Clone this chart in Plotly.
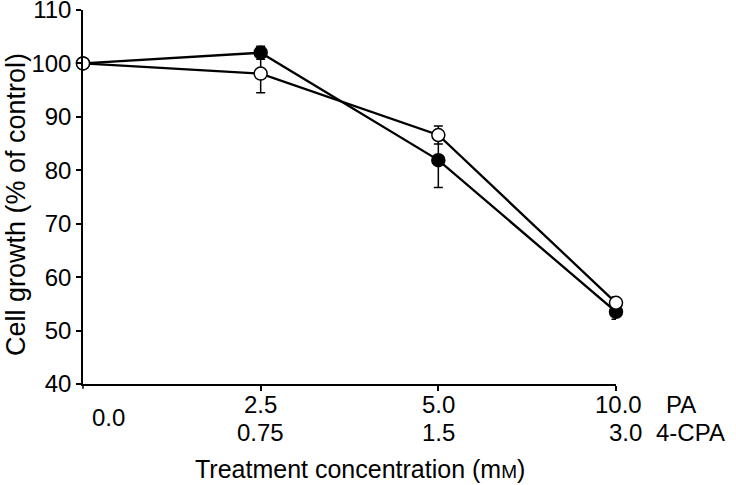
import plotly.graph_objects as go

# ---- data ----
pa_conc = ["0.0", "2.5", "5.0", "10.0"]      # PA (mM)
cpa_conc = ["", "0.75", "1.5", "3.0"]        # 4-CPA (mM)
x_index = [0, 1, 2, 3]

filled_growth = [100, 102.0, 81.9, 53.5]
filled_err = [0, 1.2, 5.1, 1.4]
open_growth = [100, 98.1, 86.6, 55.2]
open_err = [0, 3.6, 1.7, 1.1]

y_ticks = [40, 50, 60, 70, 80, 90, 100, 110]

FONT = "Liberation Sans, Arial, Helvetica, sans-serif"
TICK_SIZE = 24

fig = go.Figure()

fig.add_trace(go.Scatter(
    x=x_index, y=filled_growth, mode="lines+markers", name="filled",
    line=dict(color="black", width=2.3),
    marker=dict(symbol="circle", size=13, color="black",
                line=dict(color="black", width=1.5)),
    error_y=dict(type="data", array=filled_err, visible=True,
                 color="black", thickness=1.5, width=4.5),
    cliponaxis=False, showlegend=False,
))
fig.add_trace(go.Scatter(
    x=x_index, y=open_growth, mode="lines+markers", name="open",
    line=dict(color="black", width=2.3),
    marker=dict(symbol="circle", size=13, color="white",
                line=dict(color="black", width=1.5)),
    error_y=dict(type="data", array=open_err, visible=True,
                 color="black", thickness=1.5, width=4.5),
    cliponaxis=False, showlegend=False,
))

fig.update_layout(
    width=736, height=485,
    margin=dict(l=83, r=120, t=10, b=101, autoexpand=False),
    paper_bgcolor="white", plot_bgcolor="white",
    font=dict(family=FONT, color="black", size=TICK_SIZE),
)

fig.update_xaxes(
    range=[0, 3], showgrid=False, zeroline=False, automargin=False,
    showline=True, linecolor="black", linewidth=1.5,
    ticks="outside", ticklen=5, tickwidth=1.5, tickcolor="black",
    tickvals=x_index[1:], showticklabels=False,
)
fig.update_yaxes(
    range=[40, 110], showgrid=False, zeroline=False, automargin=False,
    showline=True, linecolor="black", linewidth=1.5,
    ticks="outside", ticklen=5, tickwidth=1.5, tickcolor="black",
    tickvals=y_ticks, ticktext=[str(v) for v in y_ticks],
    tickfont=dict(size=TICK_SIZE, family=FONT, color="black"),
    ticklabeloverflow="allow",
)

# small extension of y-axis below 40
fig.add_shape(type="line", xref="paper", yref="paper",
              x0=0, x1=0, y0=0, y1=-0.013,
              line=dict(color="black", width=1.5))

# x tick labels (two rows)
row1_y = (384 - 404) / 374
row2_y = (384 - 432) / 374
mid_y = (384 - 418) / 374
ann = []
ann.append(dict(x=x_index[0], xref="x", y=mid_y, yref="paper", text=pa_conc[0],
                showarrow=False, xanchor="center", yanchor="middle", xshift=25))
for i in (1, 2):
    ann.append(dict(x=x_index[i], xref="x", y=row1_y, yref="paper", text=pa_conc[i],
                    showarrow=False, xanchor="center", yanchor="middle"))
    ann.append(dict(x=x_index[i], xref="x", y=row2_y, yref="paper", text=cpa_conc[i],
                    showarrow=False, xanchor="center", yanchor="middle"))
ann.append(dict(x=x_index[3], xref="x", y=row1_y, yref="paper", text=pa_conc[3],
                showarrow=False, xanchor="right", yanchor="middle", xshift=28))
ann.append(dict(x=x_index[3], xref="x", y=row2_y, yref="paper", text=cpa_conc[3],
                showarrow=False, xanchor="right", yanchor="middle", xshift=28))
ann.append(dict(x=x_index[3], xref="x", y=row1_y, yref="paper", text="PA",
                showarrow=False, xanchor="left", yanchor="middle", xshift=48))
ann.append(dict(x=x_index[3], xref="x", y=row2_y, yref="paper", text="4-CPA",
                showarrow=False, xanchor="left", yanchor="middle", xshift=38))

# axis titles
ann.append(dict(x=(360 - 83) / 533, xref="paper", y=(384 - 469) / 374, yref="paper",
                text="Treatment concentration (m<span style='font-size:19px'>M</span>)",
                showarrow=False, xanchor="center", yanchor="middle",
                font=dict(size=25, family=FONT, color="black")))
ann.append(dict(x=(16 - 83) / 533, xref="paper", y=(384 - 205) / 374, yref="paper",
                text="Cell growth (% of control)", textangle=-90,
                showarrow=False, xanchor="center", yanchor="middle",
                font=dict(size=27, family=FONT, color="black")))

fig.update_layout(annotations=ann)

fig.write_html("out.html", config={"displayModeBar": False},
               post_script="document.body.style.margin='0';document.body.style.padding='0';")
